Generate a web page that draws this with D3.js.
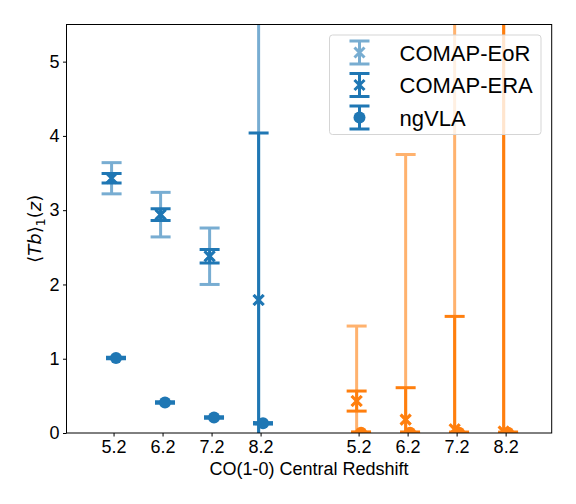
<!DOCTYPE html>
<html>
<head>
<meta charset="utf-8">
<script src="https://cdn.jsdelivr.net/npm/d3@7"></script>
<style>
  html, body { margin: 0; padding: 0; background: #fff; }
  svg { display: block; }
</style>
</head>
<body>
<div id="root"></div>
<script>
const svgWidth = 576;
const svgHeight = 504;

// tick positions along the x axis and their labels
const tickPositions = [0, 1, 2, 3, 5, 6, 7, 8];
const tickLabels = ["5.2", "6.2", "7.2", "8.2", "5.2", "6.2", "7.2", "8.2"];
const yTicks = [0, 1, 2, 3, 4, 5];

// blue group (first four redshifts)
const bluePos = [0, 1, 2, 3];
const blueComap = [3.43, 2.94, 2.38, 1.79];
const blueEorErr = [0.21, 0.30, 0.38, 5.0];
const blueEraErr = [0.065, 0.08, 0.09, 2.25];
const blueNgvla = [1.01, 0.41, 0.21, 0.13];
const blueNgvlaErr = [0.01, 0.01, 0.01, 0.01];

// orange group (second four redshifts)
const orangePos = [5, 6, 7, 8];
const orangeComap = [0.43, 0.18, 0.05, 0.02];
const orangeEorErr = [1.01, 3.57, 8.0, 20.0];
const orangeEraErr = [0.135, 0.43, 1.52, 8.0];
const orangeNgvla = [0.005, 0.004, 0.003, 0.002];
const orangeNgvlaErr = [0.01, 0.01, 0.01, 0.01];

const legendLabels = ["COMAP-EoR", "COMAP-ERA", "ngVLA"];

const margin = {left: 66.5, right: 24.3, top: 24.5, bottom: 71};
const plotW = svgWidth - margin.left - margin.right;
const plotH = svgHeight - margin.top - margin.bottom;

const xScale = d3.scaleLinear().domain([-0.96, 8.94]).range([margin.left, margin.left + plotW]);
const yScale = d3.scaleLinear().domain([0, 5.5]).range([margin.top + plotH, margin.top]);

const comapShift = -0.04;
const ngvlaShift = 0.05;
const capHalf = 10;

const mainSvg = d3.select("#root")
  .append("svg")
  .attr("width", svgWidth)
  .attr("height", svgHeight);

mainSvg.append("defs").append("clipPath")
  .attr("id", "plotClip")
  .append("rect")
  .attr("x", margin.left).attr("y", margin.top)
  .attr("width", plotW).attr("height", plotH);

const plot = mainSvg.append("g").attr("clip-path", "url(#plotClip)");

// draw one errorbar series
const drawErrorbars = (pos, vals, errs, shift, color, alpha, marker) => {
  const g = plot.append("g").attr("opacity", alpha);
  pos.forEach((p, i) => {
    const cx = xScale(p + shift);
    const yTop = yScale(vals[i] + errs[i]);
    const yBot = yScale(vals[i] - errs[i]);
    g.append("line")
      .attr("x1", cx).attr("x2", cx).attr("y1", yTop).attr("y2", yBot)
      .attr("stroke", color).attr("stroke-width", 3);
    [yTop, yBot].forEach(yc => {
      g.append("line")
        .attr("x1", cx - capHalf).attr("x2", cx + capHalf).attr("y1", yc).attr("y2", yc)
        .attr("stroke", color).attr("stroke-width", 3);
    });
    drawMarker(g, cx, yScale(vals[i]), color, marker);
  });
};

const drawMarker = (g, cx, cy, color, marker) => {
  if (marker === "x") {
    const s = 5;
    g.append("path")
      .attr("d", `M${cx - s},${cy - s}L${cx + s},${cy + s}M${cx - s},${cy + s}L${cx + s},${cy - s}`)
      .attr("stroke", color).attr("stroke-width", 3).attr("fill", "none");
  } else {
    g.append("circle")
      .attr("cx", cx).attr("cy", cy).attr("r", 6)
      .attr("fill", color);
  }
};

drawErrorbars(bluePos, blueComap, blueEorErr, comapShift, "#1f77b4", 0.6, "x");
drawErrorbars(bluePos, blueComap, blueEraErr, comapShift, "#1f77b4", 1, "x");
drawErrorbars(bluePos, blueNgvla, blueNgvlaErr, ngvlaShift, "#1f77b4", 1, "o");
drawErrorbars(orangePos, orangeComap, orangeEorErr, comapShift, "#ff7f0e", 0.6, "x");
drawErrorbars(orangePos, orangeComap, orangeEraErr, comapShift, "#ff7f0e", 1, "x");
drawErrorbars(orangePos, orangeNgvla, orangeNgvlaErr, ngvlaShift, "#ff7f0e", 1, "o");

// axes
const xAxis = d3.axisBottom(xScale)
  .tickValues(tickPositions)
  .tickFormat((d, i) => tickLabels[i])
  .tickSize(3.5).tickPadding(3.5);
const yAxis = d3.axisLeft(yScale)
  .tickValues(yTicks)
  .tickFormat(d3.format("d"))
  .tickSize(3.5).tickPadding(3.5);

mainSvg.append("g")
  .attr("transform", `translate(0,${margin.top + plotH})`)
  .call(xAxis)
  .call(g => g.select(".domain").remove());
mainSvg.append("g")
  .attr("transform", `translate(${margin.left},0)`)
  .call(yAxis)
  .call(g => g.select(".domain").remove());

mainSvg.selectAll(".tick text")
  .attr("font-family", "'Liberation Sans', Arial, sans-serif")
  .attr("font-size", "18px")
  .attr("fill", "#000");
mainSvg.selectAll(".tick line").attr("stroke", "#000").attr("stroke-width", 1);

mainSvg.append("rect")
  .attr("x", margin.left).attr("y", margin.top)
  .attr("width", plotW).attr("height", plotH)
  .attr("fill", "none").attr("stroke", "#000").attr("stroke-width", 1);

// axis labels
mainSvg.append("text")
  .attr("x", margin.left + plotW / 2)
  .attr("y", 475)
  .attr("text-anchor", "middle")
  .attr("font-family", "'Liberation Sans', Arial, sans-serif")
  .attr("font-size", "18px")
  .text("CO(1-0) Central Redshift");

const yLabel = mainSvg.append("text")
  .attr("transform", `translate(41,${margin.top + plotH / 2}) rotate(-90)`)
  .attr("text-anchor", "middle")
  .attr("font-family", "'DejaVu Sans', sans-serif")
  .attr("font-size", "18px");
yLabel.append("tspan").text("\u27E8");
yLabel.append("tspan").attr("font-style", "italic").text("Tb");
yLabel.append("tspan").text("\u27E9");
yLabel.append("tspan").attr("font-size", "12.5px").attr("dy", 4).text("1");
yLabel.append("tspan").attr("dy", -4).text("(");
yLabel.append("tspan").attr("font-style", "italic").text("z");
yLabel.append("tspan").text(")");

// legend
const legend = mainSvg.append("g");
legend.append("rect")
  .attr("x", 329.5).attr("y", 35).attr("width", 211.5).attr("height", 99.5)
  .attr("rx", 3).attr("ry", 3)
  .attr("fill", "#fff").attr("fill-opacity", 0.8)
  .attr("stroke", "#d5d5d5").attr("stroke-width", 1);

const legendRows = [
  {alpha: 0.6, marker: "x"},
  {alpha: 1, marker: "x"},
  {alpha: 1, marker: "o"}
];
legendRows.forEach((row, i) => {
  const cy = 52.5 + i * 32.5;
  const cx = 359.5;
  const g = legend.append("g").attr("opacity", row.alpha);
  g.append("line").attr("x1", cx).attr("x2", cx).attr("y1", cy - 11.5).attr("y2", cy + 11.5)
    .attr("stroke", "#1f77b4").attr("stroke-width", 3);
  [cy - 11.5, cy + 11.5].forEach(yc => {
    g.append("line").attr("x1", cx - capHalf).attr("x2", cx + capHalf).attr("y1", yc).attr("y2", yc)
      .attr("stroke", "#1f77b4").attr("stroke-width", 3);
  });
  drawMarker(g, cx, cy, "#1f77b4", row.marker);
  legend.append("text")
    .attr("x", 399.5).attr("y", cy + 8)
    .attr("font-family", "'Liberation Sans', Arial, sans-serif")
    .attr("font-size", "22px")
    .text(legendLabels[i]);
});
</script>
</body>
</html>
